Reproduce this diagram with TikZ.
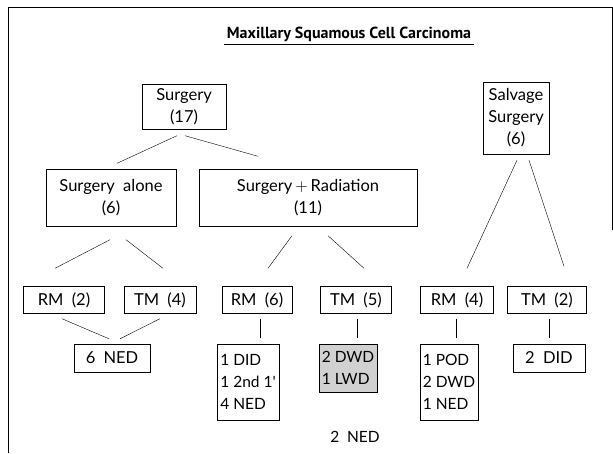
\documentclass[tikz,border=0pt]{standalone}
\usepackage{fontspec}
\setmainfont{Lato}
\newfontfamily\titlefont{PT Sans}
\usetikzlibrary{calc}
\tikzstyle{box} = [draw, thin, align=center, inner sep=2pt, font=\fontsize{16.5}{22}\selectfont]
\tikzstyle{outbox} = [draw, thin, align=left, inner xsep=3pt, inner ysep=2pt, font=\fontsize{15.5}{22}\selectfont]
\tikzstyle{line} = [thin]

\begin{document}
\begin{tikzpicture}[x=1pt, y=-1pt]

        \useasboundingbox (0,0) rectangle (613,453);

        % Frame
        \draw[line] (8,453) -- (8,7) -- (612,7) -- (612,230);

        % Title
        \node at (349,34) [inner sep=1pt, font=\titlefont\fontsize{16}{20}\selectfont\bfseries] (title) {Maxillary Squamous Cell Carcinoma};
        \draw[line] ($(title.south west)+(-2,2)$) -- ($(title.south east)+(2,2)$);

        % Top boxes
        \node at (184,107) [box, minimum width=84, minimum height=45] (surg) {Surgery\\(17)};
        \node at (516,118) [box, minimum width=66, minimum height=72] (salv) {Salvage\\Surgery\\(6)};

        % Treatment boxes
        \node at (111,198) [box, minimum width=130, minimum height=57] (alone) {Surgery\enspace alone\\(6)};
        \node at (308,198) [box, minimum width=218, minimum height=57] (rad) {Surgery$\,+\,$Radiation\\(11)};

        % Surgery connections
        \draw[line] ($(surg.south)+(-7,6)$) -- ($(alone.north)+(6,-6)$);
        \draw[line] ($(surg.south)+(1,6)$) -- ($(rad.north)+(-50,-13)$);

        % RM / TM boxes
        \node at (64,300) [box, minimum width=81, minimum height=27] (rm2) {RM\enspace(2)};
        \node at (160,300) [box, minimum width=72, minimum height=27] (tm4) {TM\enspace(4)};
        \node at (257,300) [box, minimum width=70, minimum height=27] (rm6) {RM\enspace(6)};
        \node at (356,300) [box, minimum width=71, minimum height=27] (tm5) {TM\enspace(5)};
        \node at (457,300) [box, minimum width=73, minimum height=27] (rm4) {RM\enspace(4)};
        \node at (547,300) [box, minimum width=79, minimum height=27] (tm2) {TM\enspace(2)};

        % Treatment connections
        \draw[line] ($(alone.south)+(-1,13)$) -- ($(rm2.north)+(-9,-18)$);
        \draw[line] ($(alone.south)+(15,13)$) -- ($(tm4.north)+(3,-18)$);
        \draw[line] ($(rad.south)+(-16,9)$) -- ($(rm6.north)+(11,-18)$);
        \draw[line] ($(rad.south)+(20,9)$) -- ($(tm5.north)+(8,-18)$);
        \draw[line] ($(salv.south)+(1,6)$) -- ($(rm4.north)+(10,-18)$);
        \draw[line] ($(salv.south)+(13,6)$) -- ($(tm2.north)+(17,-20)$);

        % Outcome boxes
        \node at (112,358) [box, minimum width=76, minimum height=28] (ned6) {6\enspace NED};
        \node at (248,382) [outbox, minimum width=52, minimum height=76] (did1) {1 DID\\1 2nd 1\textquotesingle\\4 NED};
        \node at (348,368) [outbox, fill=black!18, minimum width=54, minimum height=48] (dwd) {2 DWD\\1 LWD};
        \node at (355,437) [font=\fontsize{15.5}{22}\selectfont] (ned2) {2\enspace NED};
        \node at (449,382) [outbox, minimum width=56, minimum height=76] (pod) {1 POD\\2 DWD\\1 NED};
        \node at (549,358) [box, minimum width=72, minimum height=28] (did2) {2\enspace DID};

        % Outcome connections
        \draw[line] ($(rm2.south)+(-2,5)$) -- ($(ned6.north)+(-3,-5)$);
        \draw[line] ($(tm4.south)+(0,5)$) -- ($(ned6.north)+(8,-5)$);
        \draw[line] ($(rm6.south)+(3,5)$) -- ($(rm6.south |- did1.north)+(3,-6)$);
        \draw[line] ($(tm5.south)+(1,5)$) -- ($(tm5.south |- dwd.north)+(1,-6)$);
        \draw[line] ($(rm4.south)+(-1,5)$) -- ($(rm4.south |- pod.north)+(-1,-6)$);
        \draw[line] ($(tm2.south)+(2,5)$) -- ($(tm2.south |- did2.north)+(2,-6)$);

\end{tikzpicture}
\end{document}
